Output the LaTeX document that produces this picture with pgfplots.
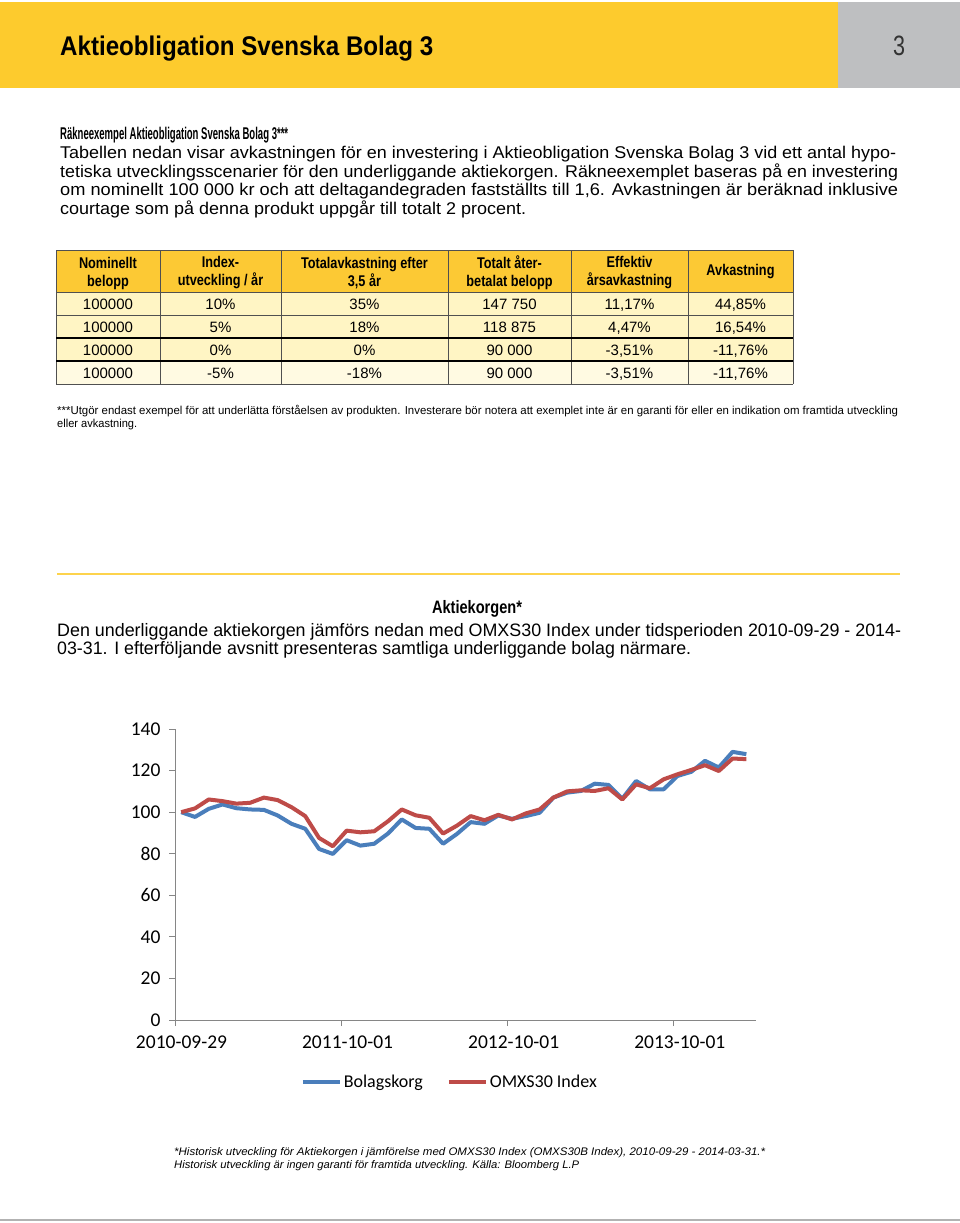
\documentclass[border=0pt]{standalone}
\usepackage{fontspec}
\setmainfont{Liberation Sans}
\newfontfamily\cond{Liberation Sans}[FakeStretch=0.82]
\newfontfamily\calibri{Carlito}
\usepackage{graphicx}
\usepackage{pgfplots}
\pgfplotsset{compat=1.18}
\definecolor{yellowH}{RGB}{253,203,45}
\definecolor{grayH}{RGB}{190,191,193}
\definecolor{tabY}{RGB}{252,201,52}
\definecolor{cream1}{RGB}{255,245,196}
\definecolor{cream2}{RGB}{255,250,226}
\definecolor{blueL}{RGB}{74,126,187}
\definecolor{redL}{RGB}{190,75,72}
\definecolor{axisgray}{RGB}{134,134,134}
\definecolor{gridc}{RGB}{80,80,80}
\newcommand{\fs}[1]{\fontsize{#1}{#1}\selectfont}
\newcommand{\fitw}[2]{\resizebox{#1}{\height}{#2}}

\pgfplotstableread{
i v
0 100
1 97.7
2 101.6
3 103.7
4 101.9
5 101.3
6 101.1
7 98.4
8 94.4
9 92.0
10 82.3
11 79.9
12 86.5
13 83.9
14 84.8
15 89.7
16 96.5
17 92.4
18 92.0
19 84.8
20 89.5
21 95.2
22 94.4
23 98.4
24 96.8
25 98.1
26 99.7
27 107.0
28 109.4
29 110.2
30 113.7
31 113.1
32 106.5
33 115.0
34 111.0
35 111.0
36 117.4
37 119.4
38 124.7
39 121.5
40 129.0
41 127.9
}\bolag
\pgfplotstableread{
i v
0 100
1 101.8
2 106.1
3 105.3
4 104.1
5 104.5
6 107.0
7 105.8
8 102.4
9 98.1
10 87.6
11 83.6
12 91.1
13 90.3
14 90.8
15 95.6
16 101.3
17 98.5
18 97.3
19 89.7
20 93.5
21 98.1
22 96.1
23 98.7
24 96.5
25 99.4
26 101.3
27 107.0
28 110.0
29 110.5
30 110.2
31 111.5
32 106.1
33 113.4
34 111.5
35 115.8
36 118.2
37 120.3
38 122.6
39 119.8
40 125.8
41 125.5
}\omx

\begin{document}
\begin{tikzpicture}
\useasboundingbox (0pt,0pt) rectangle (960pt,-1223pt);
\fill[white] (0pt,0pt) rectangle (960pt,-1223pt);
% header
\fill[yellowH] (0pt,-2pt) rectangle (838pt,-88pt);
\fill[grayH] (838pt,-2pt) rectangle (960pt,-88pt);
\node[anchor=base west,inner sep=0pt] at (60pt,-56pt) {\fitw{373pt}{\cond\bfseries\fs{27}Aktieobligation Svenska Bolag 3}};
\node[anchor=base,inner sep=0pt,text=black!80] at (899pt,-56pt) {\fitw{12pt}{\fs{28}3}};
% intro text
\node[anchor=base west,inner sep=0pt] at (60pt,-139pt) {\fitw{228pt}{\cond\bfseries\fs{17}Räkneexempel Aktieobligation Svenska Bolag 3***}};
\node[anchor=base west,inner sep=0pt] at (60pt,-158.5pt) {\fitw{836pt}{\fs{17}Tabellen nedan visar avkastningen för en investering i Aktieobligation Svenska Bolag 3 vid ett antal hypo-}};
\node[anchor=base west,inner sep=0pt] at (60pt,-177pt) {\fitw{838pt}{\fs{17}tetiska utvecklingsscenarier för den underliggande aktiekorgen. Räkneexemplet baseras på en investering}};
\node[anchor=base west,inner sep=0pt] at (60pt,-195.5pt) {\fitw{838pt}{\fs{17}om nominellt 100 000 kr och att deltagandegraden fastställts till 1,6. Avkastningen är beräknad inklusive}};
\node[anchor=base west,inner sep=0pt] at (60pt,-214pt) {\fitw{466pt}{\fs{17}courtage som på denna produkt uppgår till totalt 2 procent.}};
% table
\fill[tabY] (56pt,-250pt) rectangle (793pt,-292pt);
\fill[cream1] (56pt,-292pt) rectangle (793pt,-361pt);
\fill[cream2] (56pt,-361pt) rectangle (793pt,-384pt);
\foreach \x in {56,160,281,448,571,688,793}{\draw[gridc,line width=1pt] (\x pt,-250pt) -- (\x pt,-384pt);}
\foreach \y in {250,292,315,384}{\draw[gridc,line width=1pt] (56pt,-\y pt) -- (793pt,-\y pt);}
\foreach \y in {338,361}{\draw[black,line width=1.8pt] (56pt,-\y pt) -- (793pt,-\y pt);}
\begin{scope}[every node/.style={align=center,inner sep=0pt,font=\cond\bfseries\fontsize{15.5}{18}\selectfont}]
\node at (108pt,-273pt) {Nominellt\\belopp};
\node at (220.5pt,-273pt) {Index-\\utveckling / år};
\node at (364.5pt,-273pt) {Totalavkastning efter\\3,5 år};
\node at (509.5pt,-273pt) {Totalt åter-\\betalat belopp};
\node at (629.5pt,-273pt) {Effektiv\\årsavkastning};
\node at (740.5pt,-272pt) {Avkastning};
\end{scope}
\begin{scope}[every node/.style={anchor=base,inner sep=0pt,font=\fs{15}}]
\foreach \y/\a/\b/\c/\d/\e/\f in {309/100000/10\%/35\%/147 750/{11,17\%}/{44,85\%},
  332/100000/5\%/18\%/118 875/{4,47\%}/{16,54\%},
  355/100000/0\%/0\%/90 000/{-3,51\%}/{-11,76\%},
  378/100000/-5\%/-18\%/90 000/{-3,51\%}/{-11,76\%}}{
  \node at (108pt,-\y pt) {\a};
  \node at (220.5pt,-\y pt) {\b};
  \node at (364.5pt,-\y pt) {\c};
  \node at (509.5pt,-\y pt) {\d};
  \node at (629.5pt,-\y pt) {\e};
  \node at (740.5pt,-\y pt) {\f};
}
\end{scope}
\node[anchor=base west,inner sep=0pt] at (57pt,-414pt) {\fitw{841pt}{\fs{11.5}***Utgör endast exempel för att underlätta förståelsen av produkten. Investerare bör notera att exemplet inte är en garanti för eller en indikation om framtida utveckling}};
\node[anchor=base west,inner sep=0pt] at (57pt,-427pt) {\fitw{80pt}{\fs{11.5}eller avkastning.}};
% separator
\draw[yellowH!85!white,line width=2.5pt] (57pt,-574pt) -- (900pt,-574pt);
\node[anchor=base,inner sep=0pt] at (477pt,-613pt) {\fitw{90pt}{\cond\bfseries\fs{18}Aktiekorgen*}};
\node[anchor=base west,inner sep=0pt] at (57pt,-636pt) {\fitw{844pt}{\fs{18}Den underliggande aktiekorgen jämförs nedan med OMXS30 Index under tidsperioden 2010-09-29 - 2014-}};
\node[anchor=base west,inner sep=0pt] at (57pt,-654pt) {\fitw{634pt}{\fs{18}03-31. I efterföljande avsnitt presenteras samtliga underliggande bolag närmare.}};
% chart
\begin{axis}[
  at={(175pt,-1020pt)}, anchor=south west,
  scale only axis, width=581pt, height=291pt,
  xmin=-0.45, xmax=41.7, ymin=0, ymax=140,
  axis x line*=bottom, axis y line*=left,
  axis line style={-, axisgray, line width=0.8pt},
  xtick={-0.45,11.6,23.65,35.7},
  xticklabels={2010-09-29,2011-10-01,2012-10-01,2013-10-01},
  ytick={0,20,...,140},
  tick align=outside, major tick length=6pt,
  tick style={axisgray, line width=0.8pt},
  ticklabel style={font=\calibri\fs{19.5}},
  /pgf/number format/assume math mode=true,
  yticklabel style={xshift=-5pt},
  xticklabel style={yshift=-6pt, xshift=6.5pt},
  legend style={at={(0.473,-0.213)}, anchor=center, draw=none, fill=none,
    legend columns=2, font=\calibri\fs{18},
    /tikz/every even column/.append style={column sep=22pt}},
  legend image code/.code={\draw[#1, line width=4pt] (0pt,0pt) -- (37pt,0pt);},
  clip=false,
]
\addplot[blueL, line width=4pt, line join=round, no marks] table[x=i,y=v] {\bolag};
\addlegendentry{Bolagskorg}
\addplot[redL, line width=4pt, line join=round, no marks] table[x=i,y=v] {\omx};
\addlegendentry{OMXS30 Index}
\end{axis}
% footnote
\node[anchor=base west,inner sep=0pt] at (174pt,-1155pt) {\fitw{591pt}{\itshape\fs{11}*Historisk utveckling för Aktiekorgen i jämförelse med OMXS30 Index (OMXS30B Index), 2010-09-29 - 2014-03-31.*}};
\node[anchor=base west,inner sep=0pt] at (174pt,-1168pt) {\fitw{405pt}{\itshape\fs{11}Historisk utveckling är ingen garanti för framtida utveckling. Källa: Bloomberg L.P}};
\draw[gray!60,line width=2pt] (0pt,-1220pt) -- (960pt,-1220pt);
\end{tikzpicture}
\end{document}
